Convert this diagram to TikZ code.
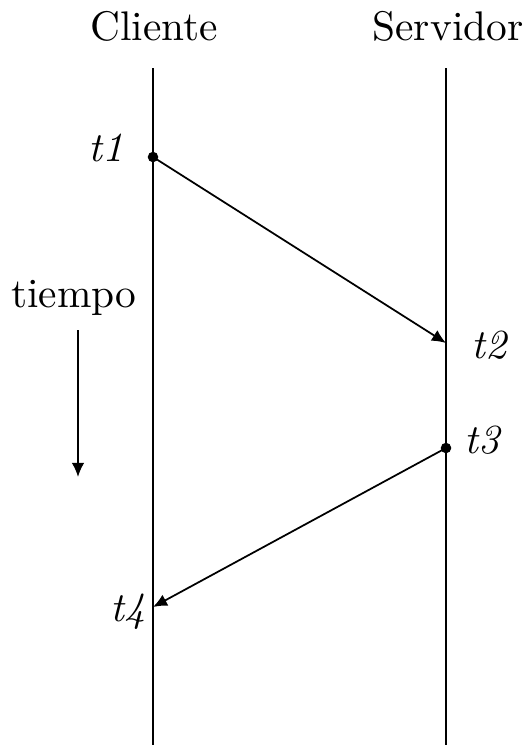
\documentclass[tikz,border=0pt]{standalone}
\usetikzlibrary{arrows.meta, positioning}
\begin{document}
\begin{tikzpicture}[
    x=0.009cm, y=-0.009cm,
    font=\fontsize{10.6}{13}\selectfont,
    header/.style={inner sep=0pt, anchor=base},
    stamp/.style={font=\fontsize{10.6}{13}\selectfont\itshape, inner sep=0pt},
    event/.style={circle, fill=black, inner sep=0pt, minimum size=2.7pt},
    lifeline/.style={line width=0.5pt},
    msg/.style={-{Latex[length=3.6pt, width=3.2pt]}, line width=0.45pt}
]
\useasboundingbox (0,0) rectangle (529,745);

% actors
\node[header] (cliente) at (154,40) {Cliente};
\node[header] (servidor) at (448,40) {Servidor};
\coordinate (cliTop) at (153,68);
\coordinate (cliEnd) at (153,745);
\coordinate (srvTop) at (446,68);
\coordinate (srvEnd) at (446,745);
\draw[lifeline] (cliTop) -- (cliEnd);
\draw[lifeline] (srvTop) -- (srvEnd);

% events
\node[event] (t1) at (153,157) {};
\coordinate (t2) at (446,343);
\node[event] (t3) at (446,448) {};
\coordinate (t4) at (153,607);

\node[stamp] (t1lbl) at (106,148) {t1};
\node[stamp] (t2lbl) at (489,345) {t2};
\node[stamp] (t3lbl) at (482,440) {t3};
\node[stamp] (t4lbl) at (128,612) {t4};

\draw[msg] (t1.center) -- (t2);
\draw[msg] (t3.center) -- (t4);

% time axis
\node[inner sep=0pt] (tiempo) at (74,298) {tiempo};
\coordinate (timeTop) at (78,330);
\coordinate (timeEnd) at (78,477);
\draw[msg] (timeTop) -- (timeEnd);

\end{tikzpicture}
\end{document}
